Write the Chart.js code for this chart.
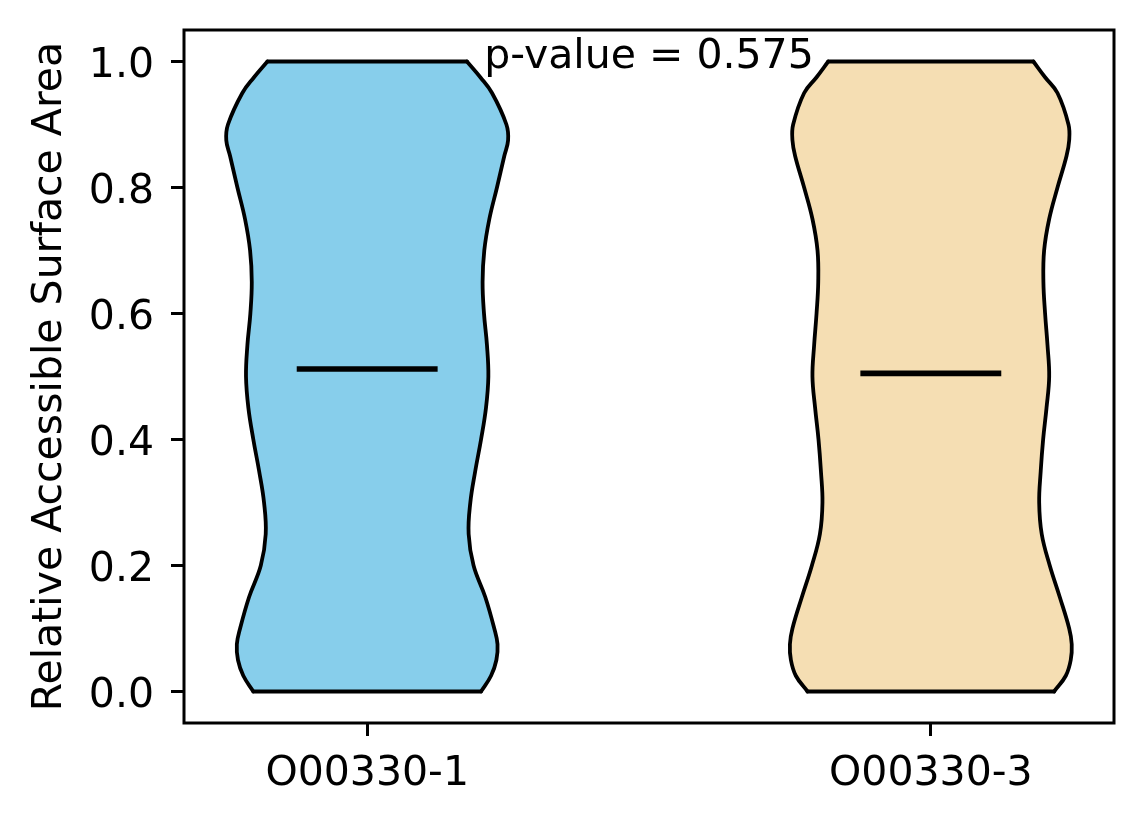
<!DOCTYPE html>
<html>
<head>
<meta charset="utf-8">
<script src="https://cdn.jsdelivr.net/npm/chart.js@4.4.1/dist/chart.umd.min.js"></script>
<style>
  html, body { margin: 0; padding: 0; background: #ffffff; }
  #wrap { width: 1144px; height: 824px; }
</style>
</head>
<body>
<div id="wrap"><canvas id="chart" width="1144" height="824"></canvas></div>
<script>
// categories and their x positions
const categories = ['O00330-1', 'O00330-3'];
const positions = [1, 2];

// y levels at which the violin outlines were read (relative ASA)
const levels = [0, 0.025, 0.05, 0.075, 0.1, 0.15, 0.2, 0.25, 0.3, 0.35, 0.4, 0.45, 0.5,
                0.55, 0.6, 0.65, 0.7, 0.75, 0.8, 0.85, 0.875, 0.9, 0.95, 0.975, 1.0];

// kernel density (scaled so the widest point = 1) for each violin
const densityA = [0.808, 0.879, 0.917, 0.925, 0.902, 0.838, 0.755, 0.720, 0.732, 0.767, 0.808, 0.843, 0.860,
                  0.850, 0.829, 0.819, 0.831, 0.867, 0.921, 0.973, 1.0, 0.988, 0.886, 0.803, 0.708];
const densityB = [0.875, 0.958, 0.993, 1.0, 0.982, 0.915, 0.844, 0.787, 0.769, 0.780, 0.797, 0.821, 0.840,
                  0.828, 0.811, 0.799, 0.804, 0.840, 0.899, 0.963, 0.982, 0.977, 0.899, 0.811, 0.728];

const means = [0.512, 0.505];
const yTicks = [0, 0.2, 0.4, 0.6, 0.8, 1.0];
const pValue = 0.575;

const colors = ['#87CEEB', '#F5DEB3'];
const violinWidth = 0.5;   // full width in x units
const FONT = 'DejaVu Sans';

Chart.defaults.font.family = FONT;
Chart.defaults.color = '#000';

const sideStyle = {
  indexAxis: 'y',
  tension: 0.4,
  borderColor: '#000',
  borderWidth: 3.8,
  borderCapStyle: 'round',
  pointRadius: 0,
  order: 3
};
const capStyle = {
  borderColor: '#000',
  borderWidth: 3.8,
  borderCapStyle: 'round',
  pointRadius: 0,
  fill: false,
  order: 2
};

const densities = [densityA, densityB];
const datasets = [];
positions.forEach((pos, i) => {
  const dens = densities[i];
  const half = violinWidth / 2;
  const n = levels.length - 1;
  const right = levels.map((lv, k) => ({ x: pos + dens[k] * half, y: lv }));
  const left = levels.map((lv, k) => ({ x: pos - dens[k] * half, y: lv }));
  const base = datasets.length;
  datasets.push({ ...sideStyle, label: categories[i] + ' right', data: right, fill: false });
  datasets.push({ ...sideStyle, label: categories[i] + ' left', data: left,
                  fill: base, backgroundColor: colors[i] });
  datasets.push({ ...capStyle, label: categories[i] + ' bottom',
                  data: [{ ...left[0] }, { ...right[0] }] });
  datasets.push({ ...capStyle, label: categories[i] + ' top',
                  data: [{ ...left[n] }, { ...right[n] }] });
});
positions.forEach((pos, i) => {
  datasets.push({
    label: categories[i] + ' mean',
    data: [{ x: pos - violinWidth / 4, y: means[i] }, { x: pos + violinWidth / 4, y: means[i] }],
    borderColor: '#000',
    borderWidth: 5.6,
    borderCapStyle: 'butt',
    pointRadius: 0,
    fill: false,
    order: 1
  });
});

const framePlugin = {
  id: 'frame',
  afterDraw(chart) {
    const { ctx, chartArea: a, scales } = chart;
    ctx.save();
    ctx.strokeStyle = '#000';
    ctx.lineWidth = 3;
    ctx.strokeRect(a.left, a.top, a.right - a.left, a.bottom - a.top);
    // p-value annotation
    ctx.font = '41px "' + FONT + '"';
    ctx.fillStyle = '#000';
    ctx.textAlign = 'center';
    ctx.textBaseline = 'alphabetic';
    ctx.fillText('p-value = ' + pValue.toFixed(3),
      scales.x.getPixelForValue((positions[0] + positions[1]) / 2),
      scales.y.getPixelForValue(0.99));
    ctx.restore();
  }
};

new Chart(document.getElementById('chart'), {
  type: 'line',
  data: { datasets },
  options: {
    responsive: false,
    animation: false,
    events: [],
    layout: { padding: { left: 0, top: 30, right: 30, bottom: 0 } },
    plugins: { legend: { display: false }, tooltip: { enabled: false } },
    scales: {
      x: {
        type: 'linear',
        min: 0.675,
        max: 2.325,
        afterBuildTicks: s => { s.ticks = positions.map(v => ({ value: v })); },
        afterFit: s => { s.height = 101; s.paddingLeft = 0; s.paddingRight = 0; },
        ticks: {
          font: { size: 41 },
          padding: 14,
          maxRotation: 0,
          callback: v => categories[positions.indexOf(v)]
        },
        grid: { drawOnChartArea: false, tickLength: 13, tickWidth: 3, tickColor: '#000' },
        border: { display: false }
      },
      y: {
        type: 'linear',
        min: -0.05,
        max: 1.05,
        afterBuildTicks: s => { s.ticks = yTicks.map(v => ({ value: v })); },
        afterFit: s => { s.width = 184; s.paddingTop = 0; s.paddingBottom = 0; },
        ticks: {
          font: { size: 41 },
          padding: 17,
          labelOffset: 5,
          callback: v => v.toFixed(1)
        },
        grid: { drawOnChartArea: false, tickLength: 13, tickWidth: 3, tickColor: '#000' },
        border: { display: false },
        title: {
          display: true,
          text: 'Relative Accessible Surface Area',
          font: { size: 41 },
          padding: { top: 26, bottom: 0 }
        }
      }
    }
  },
  plugins: [framePlugin]
});
</script>
</body>
</html>
